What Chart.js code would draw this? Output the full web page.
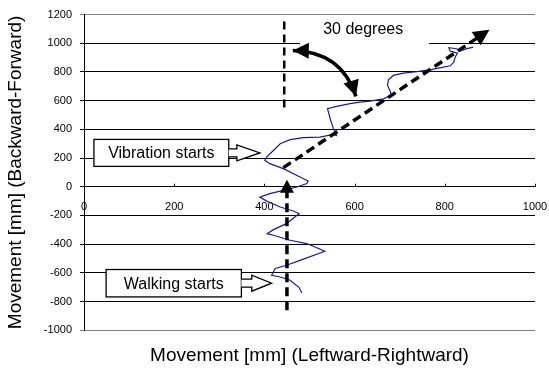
<!DOCTYPE html>
<html><head><meta charset="utf-8">
<script src="https://cdn.jsdelivr.net/npm/chart.js@4.4.0/dist/chart.umd.min.js"></script>
<style>html,body{margin:0;padding:0;background:#fff;} canvas{display:block;}</style>
</head><body>
<canvas id="c" width="549" height="372"></canvas>
<script>
// ---- data ----
const moveX = [483,477,457,435,416,424,449,479,534,494,457,420,406,420,449,477,464,435,405,390,412,442,472,494,497,479,442,412,401,405,420,435,457,486,523,553,560,553,547,542,540,560,590,612,634,664,679,680,673,675,686,708,738,767,789,812,820,823,828,812,809,826,834,845,863];
const moveY = [-740,-703,-652,-629,-617,-570,-547,-513,-450,-396,-373,-338,-327,-299,-257,-187,-169,-141,-100,-72,-48,-25,-2,22,40,68,126,161,184,207,253,300,328,342,346,365,358,405,462,520,544,560,579,590,597,613,636,659,706,746,776,792,802,815,829,843,868,903,931,945,969,962,945,959,973];
const xTickValues = [0,200,400,600,800,1000];
const yTickValues = [-1000,-800,-600,-400,-200,0,200,400,600,800,1000,1200];
const xTitle = 'Movement [mm] (Leftward-Rightward)';
const yTitle = 'Movement [mm] (Backward-Forward)';
const vibrationLabel = 'Vibration starts';
const walkingLabel = 'Walking starts';
const angleLabel = '30 degrees';

const FONT = "'Liberation Sans', Arial, sans-serif";

// annotation geometry in data units
const geom = {
  vertArrow: {x:450, y0:-861, tip:49},
  diagArrow: {x0:442, y0:133, x1:899, y1:1094},
  topDash: {x:444, y0:546, y1:1152},
  curve: {x0:463, y0:950, cx:571, cy:943, x1:603, y1:630},
  angleBox: {x0:479, x1:765, y0:950, y1:1159, tx:619, ty:1096},
  vib: {x0:22, x1:321, y0:142, y1:330, tip:390, base:339},
  walk: {x0:49, x1:349, y0:-768, y1:-577, tip:416, base:372}
};

function head(ctx, tx, ty, dx, dy, len, half){
  const L = Math.hypot(dx,dy), ux = dx/L, uy = dy/L;
  const bx = tx-ux*len, by = ty-uy*len;
  ctx.beginPath();
  ctx.moveTo(tx,ty);
  ctx.lineTo(bx-uy*half, by+ux*half);
  ctx.lineTo(bx+uy*half, by-ux*half);
  ctx.closePath();
  ctx.fill();
}

function callout(ctx, X, Y, g, text){
  const x1 = X(g.x0), x2 = X(g.x1), y1 = Y(g.y1), y2 = Y(g.y0);
  const cy = (y1+y2)/2, tip = X(g.tip), base = X(g.base);
  ctx.setLineDash([]);
  ctx.lineWidth = 1.3;
  ctx.strokeStyle = '#000';
  ctx.fillStyle = '#fff';
  ctx.fillRect(x1,y1,x2-x1,y2-y1);
  ctx.strokeRect(x1,y1,x2-x1,y2-y1);
  ctx.beginPath();
  ctx.moveTo(x2,cy-4); ctx.lineTo(base,cy-4); ctx.lineTo(base,cy-8);
  ctx.lineTo(tip,cy); ctx.lineTo(base,cy+8); ctx.lineTo(base,cy+4); ctx.lineTo(x2,cy+4);
  ctx.fill();
  ctx.stroke();
  ctx.fillStyle = '#000';
  ctx.font = '16px ' + FONT;
  ctx.textAlign = 'center';
  ctx.textBaseline = 'middle';
  ctx.fillText(text, (x1+x2)/2, cy+1);
}

const annot = {
  id: 'annot',
  afterDraw(chart){
    const ctx = chart.ctx, xs = chart.scales.x, ys = chart.scales.y;
    const X = v => xs.getPixelForValue(v), Y = v => ys.getPixelForValue(v);
    ctx.save();
    // small upward ticks on the x axis
    ctx.strokeStyle = '#000'; ctx.lineWidth = 1;
    xTickValues.forEach(v => {
      if (v === 0) return;
      const px = Math.round(X(v)) + 0.5;
      ctx.beginPath(); ctx.moveTo(px, Y(0)); ctx.lineTo(px, Y(0)-3); ctx.stroke();
    });
    // angle label with white background
    const ab = geom.angleBox;
    ctx.fillStyle = '#fff';
    ctx.fillRect(X(ab.x0), Y(ab.y1), X(ab.x1)-X(ab.x0), Y(ab.y0)-Y(ab.y1));
    ctx.fillStyle = '#000';
    ctx.font = '16px ' + FONT;
    ctx.textAlign = 'center'; ctx.textBaseline = 'middle';
    ctx.fillText(angleLabel, X(ab.tx), Y(ab.ty));

    ctx.fillStyle = '#000'; ctx.strokeStyle = '#000';
    // top vertical dashed reference line
    const td = geom.topDash;
    ctx.lineWidth = 2.5; ctx.setLineDash([8,5]);
    ctx.beginPath(); ctx.moveTo(X(td.x), Y(td.y1)); ctx.lineTo(X(td.x), Y(td.y0)); ctx.stroke();

    // vertical dashed arrow (walking direction)
    const va = geom.vertArrow;
    ctx.lineWidth = 3.5; ctx.setLineDash([9,5]);
    ctx.beginPath(); ctx.moveTo(X(va.x), Y(va.y0)); ctx.lineTo(X(va.x), Y(va.tip)+12); ctx.stroke();
    ctx.setLineDash([]);
    head(ctx, X(va.x), Y(va.tip), 0, -1, 13, 7);

    // diagonal dashed arrow
    const da = geom.diagArrow;
    const sx = X(da.x0), sy = Y(da.y0), ex = X(da.x1), ey = Y(da.y1);
    const L = Math.hypot(ex-sx, ey-sy);
    ctx.setLineDash([9,5]);
    ctx.beginPath(); ctx.moveTo(sx,sy); ctx.lineTo(ex-(ex-sx)/L*13, ey-(ey-sy)/L*13); ctx.stroke();
    ctx.setLineDash([]);
    head(ctx, ex, ey, ex-sx, ey-sy, 16, 8);

    // curved double arrow
    const c = geom.curve;
    const p0x = X(c.x0), p0y = Y(c.y0), cx = X(c.cx), cy = Y(c.cy), p2x = X(c.x1), p2y = Y(c.y1);
    ctx.lineWidth = 3.5;
    ctx.beginPath(); ctx.moveTo(p0x,p0y); ctx.quadraticCurveTo(cx,cy,p2x,p2y); ctx.stroke();
    head(ctx, p0x, p0y, p0x-cx, p0y-cy, 16, 8);
    head(ctx, p2x, p2y, p2x-cx, p2y-cy, 16, 8);

    // callouts
    callout(ctx, X, Y, geom.vib, vibrationLabel);
    callout(ctx, X, Y, geom.walk, walkingLabel);
    ctx.restore();
  }
};

const points = moveX.map((x,i) => ({x:x, y:moveY[i]}));

new Chart(document.getElementById('c'), {
  type: 'scatter',
  data: { datasets: [{
    data: points, showLine: true, borderColor: '#1c1c98', borderWidth: 1.2,
    pointRadius: 0, pointHoverRadius: 0, tension: 0, fill: false
  }]},
  options: {
    responsive: false, animation: false, devicePixelRatio: 1,
    layout: { padding: { left: 0, right: 14, top: 14, bottom: 0 } },
    plugins: {
      legend: { display: false }, tooltip: { enabled: false },
      title: { display: true, text: xTitle, position: 'bottom', fullSize: false, color: '#000',
               font: { family: FONT, size: 19, weight: 'normal' }, padding: { top: 14, bottom: 5 } }
    },
    scales: {
      x: {
        type: 'linear', position: { y: 0 }, min: 0, max: 1000,
        afterBuildTicks: s => { s.ticks = xTickValues.map(v => ({ value: v })); },
        afterFit: s => { s.height = 0; s.paddingLeft = 0; s.paddingRight = 0; },
        grid: { display: false },
        border: { display: true, color: '#000', width: 1 },
        ticks: { color: '#000', font: { family: FONT, size: 11 }, padding: 6, autoSkip: false,
                 maxRotation: 0, callback: v => String(v) }
      },
      y: {
        type: 'linear', min: -1000, max: 1200,
        afterBuildTicks: s => { s.ticks = yTickValues.map(v => ({ value: v })); },
        afterFit: s => { s.width = 84; },
        grid: { color: ctx => (ctx.tick && (ctx.tick.value === 1200 || ctx.tick.value === -1000)) ? '#808080' : '#000',
                lineWidth: 1, drawTicks: true, tickLength: 4 },
        border: { display: true, color: '#000', width: 1 },
        ticks: { color: '#000', font: { family: FONT, size: 11 }, padding: 8, autoSkip: false,
                 callback: v => String(v) },
        title: { display: true, text: yTitle, color: '#000', font: { family: FONT, size: 19, weight: 'normal' },
                 padding: { top: 4, bottom: 0 } }
      }
    }
  },
  plugins: [annot]
});
</script>
</body></html>
